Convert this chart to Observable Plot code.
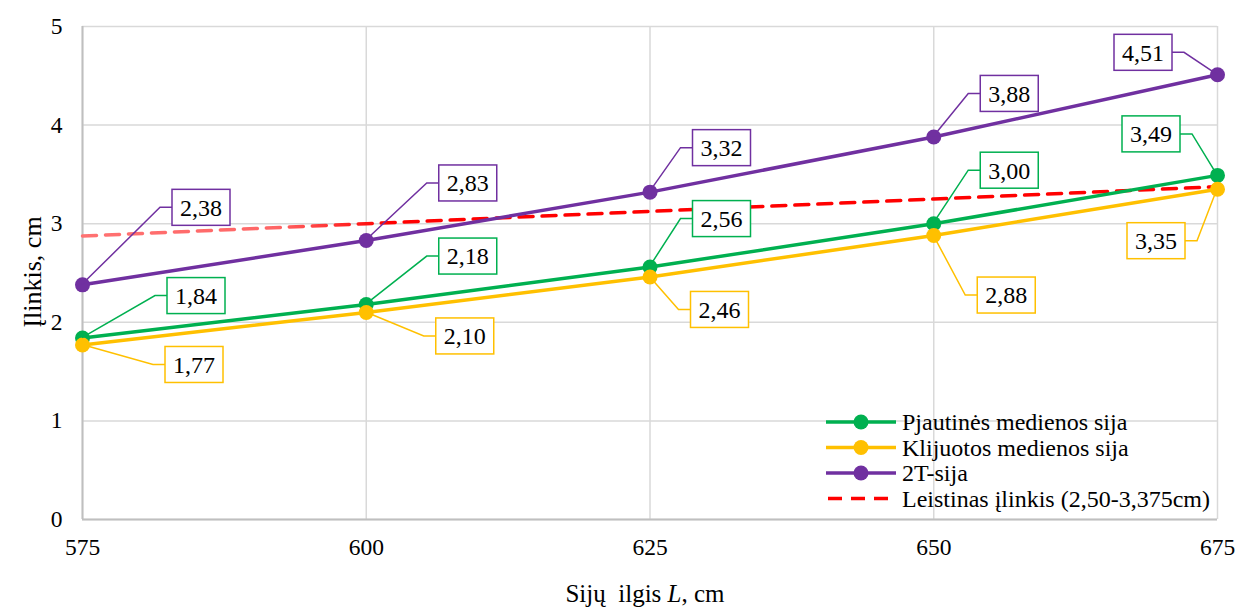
<!DOCTYPE html>
<html>
<head>
<meta charset="utf-8">
<script src="https://cdn.jsdelivr.net/npm/d3@7"></script>
<script src="https://cdn.jsdelivr.net/npm/@observablehq/plot@0.6"></script>
<style>
  html, body { margin: 0; padding: 0; background: #fff; }
  #chart { width: 1239px; height: 613px; }
  #chart svg, #chart svg text { font-family: "Liberation Serif", "Times New Roman", serif !important; }
</style>
</head>
<body>
<div id="chart"></div>
<script>
// ---- data ----
const lengths = [575, 600, 625, 650, 675];
const sawnBeam = [1.84, 2.18, 2.56, 3.00, 3.49];
const gluedBeam = [1.77, 2.10, 2.46, 2.88, 3.35];
const twoTBeam = [2.38, 2.83, 3.32, 3.88, 4.51];
const allowed = [2.875, 3.0, 3.125, 3.25, 3.375];
const seriesNames = ["Pjautinės medienos sija", "Klijuotos medienos sija", "2T-sija", "Leistinas įlinkis (2,50-3,375cm)"];
const xTicks = [575, 600, 625, 650, 675];
const yTicks = [0, 1, 2, 3, 4, 5];

// ---- styles / layout (not data) ----
const FONT = "'Liberation Serif', 'Times New Roman', serif";
const colors = {sawn: "#00b050", glued: "#ffc000", twoT: "#7030a0", allowed: "#ff0000"};
// callout box centre offsets (px) from point, per series, per point
const offsets = {
  twoT:  [[119, -77], [102, -57], [72, -44], [76, -43], [-74, -22]],
  sawn:  [[114, -42], [102, -48], [72, -48], [76, -53], [-66, -41]],
  glued: [[112, 20],  [99, 24],   [70, 33],  [73, 60],  [-61, 52]]
};

const series = [
  {key: "sawn", name: seriesNames[0], values: sawnBeam},
  {key: "glued", name: seriesNames[1], values: gluedBeam},
  {key: "twoT", name: seriesNames[2], values: twoTBeam}
];
const rows = series.flatMap(s => lengths.map((L, i) => ({key: s.key, name: s.name, L, v: s.values[i], i})));
const allowedRows = lengths.map((L, i) => ({L, v: allowed[i]}));

const plot = Plot.plot({
  width: 1239,
  height: 613,
  marginLeft: 82,
  marginRight: 22,
  marginTop: 26,
  marginBottom: 94,
  style: {fontFamily: FONT, fontSize: "23.5px", background: "#fff", color: "#000"},
  x: {domain: [575, 675], ticks: xTicks, tickSize: 0, tickPadding: 19, label: null, tickFormat: d => String(d)},
  y: {domain: [0, 5], ticks: yTicks, tickSize: 0, tickPadding: 20, label: null, tickFormat: d => String(d)},
  marks: [
    Plot.gridX(xTicks, {stroke: "#d9d9d9", strokeOpacity: 1, strokeWidth: 1.5}),
    Plot.gridY(yTicks, {stroke: "#d9d9d9", strokeOpacity: 1, strokeWidth: 1.5}),
    Plot.ruleY([0], {stroke: "#bfbfbf", strokeWidth: 2}),
    Plot.ruleX([575], {stroke: "#bfbfbf", strokeWidth: 2}),
    Plot.line(allowedRows, {x: "L", y: "v", stroke: "url(#allowedGrad)", strokeWidth: 3.5, strokeDasharray: "14,9"}),
    Plot.line(rows, {x: "L", y: "v", z: "key", stroke: d => colors[d.key], strokeWidth: 3.5}),
    Plot.dot(rows, {x: "L", y: "v", fill: d => colors[d.key], r: 7.5, stroke: "none"})
  ]
});

document.getElementById("chart").appendChild(plot);

const svg = d3.select(plot);
svg.style("font-family", FONT);
const xs = plot.scale("x"), ys = plot.scale("y");

// gradient for the allowed line (lighter at left)
const defs = svg.insert("defs", ":first-child");
const grad = defs.append("linearGradient").attr("id", "allowedGrad")
  .attr("gradientUnits", "userSpaceOnUse")
  .attr("x1", xs.apply(575)).attr("x2", xs.apply(675)).attr("y1", 0).attr("y2", 0);
grad.append("stop").attr("offset", "0%").attr("stop-color", "#ff7272");
grad.append("stop").attr("offset", "17%").attr("stop-color", "#ff6666");
grad.append("stop").attr("offset", "27%").attr("stop-color", "#ff0000");
grad.append("stop").attr("offset", "100%").attr("stop-color", "#ff0000");

// callouts
const g = svg.append("g").attr("class", "callouts").attr("font-family", FONT);
const boxH = 36, boxW = 58, elbow = 12;
rows.forEach(d => {
  const px = xs.apply(d.L), py = ys.apply(d.v);
  const [dx, dy] = offsets[d.key][d.i];
  const cx = px + dx, cy = py + dy;
  const col = colors[d.key];
  const right = dx < 0;
  const edgeX = right ? cx + boxW / 2 : cx - boxW / 2;
  const elbowX = right ? edgeX + elbow : edgeX - elbow;
  g.append("path")
    .attr("d", `M${px},${py}L${elbowX},${cy}L${edgeX},${cy}`)
    .attr("fill", "none").attr("stroke", col).attr("stroke-width", 1.5);
  g.append("rect")
    .attr("x", cx - boxW / 2).attr("y", cy - boxH / 2)
    .attr("width", boxW).attr("height", boxH)
    .attr("fill", "#fff").attr("stroke", col).attr("stroke-width", 1.5);
  g.append("text")
    .attr("x", cx).attr("y", cy).attr("dy", "0.35em")
    .attr("text-anchor", "middle").attr("font-size", 24).attr("fill", "#000")
    .text(d.v.toFixed(2).replace(".", ","));
});

// legend
const lg = svg.append("g").attr("class", "legend").attr("font-family", FONT);
const legendItems = [
  {color: colors.sawn, name: seriesNames[0], dot: true},
  {color: colors.glued, name: seriesNames[1], dot: true},
  {color: colors.twoT, name: seriesNames[2], dot: true},
  {color: colors.allowed, name: seriesNames[3], dot: false}
];
legendItems.forEach((it, k) => {
  const y = 422 + k * 25.5;
  const x0 = 826, x1 = 896;
  const ln = lg.append("line").attr("x1", x0).attr("x2", x1).attr("y1", y).attr("y2", y)
    .attr("stroke", it.color).attr("stroke-width", 3.5);
  if (!it.dot) ln.attr("stroke-dasharray", "14,9").attr("stroke-dashoffset", -2);
  if (it.dot) lg.append("circle").attr("cx", (x0 + x1) / 2).attr("cy", y).attr("r", 7.5).attr("fill", it.color);
  lg.append("text").attr("x", 902).attr("y", y).attr("dy", "0.35em")
    .attr("text-anchor", "start").attr("font-size", 24).attr("fill", "#000").text(it.name);
});

// axis titles
svg.append("text")
  .attr("transform", "translate(32,272) rotate(-90)")
  .attr("dy", "0.35em")
  .attr("text-anchor", "middle").attr("font-size", 26).attr("fill", "#000")
  .attr("font-family", FONT)
  .text("Įlinkis, cm");
const xt = svg.append("text")
  .attr("x", 645).attr("y", 602)
  .attr("text-anchor", "middle").attr("font-size", 25).attr("fill", "#000")
  .attr("font-family", FONT);
xt.append("tspan").text("Sijų  ilgis ");
xt.append("tspan").attr("font-style", "italic").text("L");
xt.append("tspan").text(", cm");
</script>
</body>
</html>
